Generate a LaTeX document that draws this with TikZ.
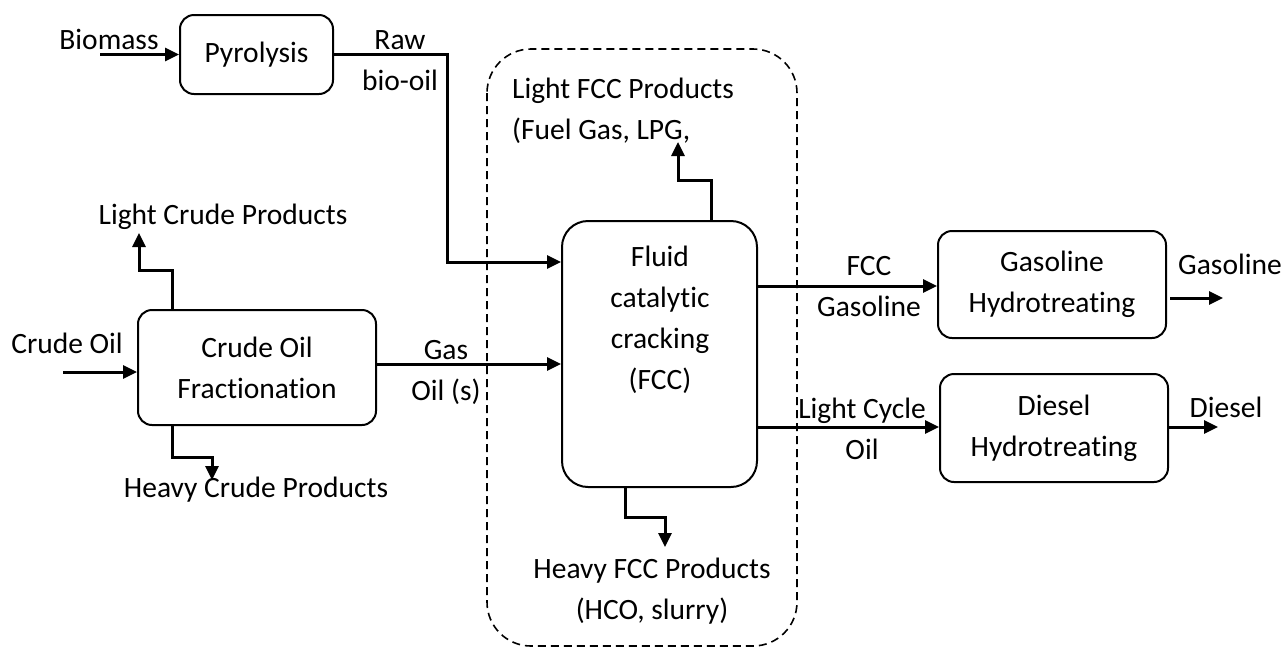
\documentclass[tikz,border=0pt]{standalone}
\usepackage{fontspec}
\setmainfont{Carlito}[Ligatures={NoCommon}]
\usetikzlibrary{arrows.meta}
\tikzset{
  proc/.style={draw, line width=2pt, rounded corners=14pt, align=center, inner sep=0pt},
  flow/.style={line width=3pt, -{Triangle[length=14pt,width=13pt]}},
  lbl/.style={align=center, inner sep=0pt},
  grp/.style={line width=1.6pt, dash pattern=on 8pt off 5pt, rounded corners=44pt}
}
\begin{document}
\begin{tikzpicture}[x=1pt,y=-1pt,font=\fontsize{29.5}{41}\selectfont]
      \useasboundingbox (0,0) rectangle (1285,649);

      % process units
      \node[proc, minimum width=153pt, minimum height=79pt] (pyro) at (256.5,54.5) {Pyrolysis};
      \node[proc, minimum width=238pt, minimum height=115pt] (cof) at (257,367.5) {Crude Oil\\Fractionation};
      \node[proc, rounded corners=26pt, minimum width=195pt, minimum height=266pt] (fcc) at (659.5,354) {};
      \node[lbl] (fcctxt) at (660,320) {Fluid\\catalytic\\cracking\\(FCC)};
      \node[proc, minimum width=228pt, minimum height=107pt] (ght) at (1052,284.5) {Gasoline\\Hydrotreating};
      \node[proc, minimum width=228pt, minimum height=108pt] (dht) at (1054,428) {Diesel\\Hydrotreating};

      % FCC unit boundary
      \draw[grp] (487,49) rectangle (797,646);

      % stream labels
      \node[lbl] (biomass) at (109,39) {Biomass};
      \node[lbl] (crude) at (67,343) {Crude Oil};
      \node[lbl] (rawoil) at (400,61) {Raw\\bio-oil};
      \node[lbl] (gasoil) at (446,372) {Gas\\Oil (s)};
      \node[lbl] (lcptxt) at (223,217) {Light Crude Products};
      \node[lbl] (hcptxt) at (256,490) {Heavy Crude Products};
      \node[lbl, align=left, anchor=west] (lfcctxt) at (512,111) {Light FCC Products\\(Fuel Gas, LPG,};
      \node[lbl] (hfcctxt) at (652,591) {Heavy FCC Products\\(HCO, slurry)};
      \node[lbl] (fccgas) at (869,287) {FCC\\Gasoline};
      \node[lbl] (lco) at (862,429) {Light Cycle\\Oil};
      \node[lbl] (gasoline) at (1230,264) {Gasoline};
      \node[lbl] (diesel) at (1226,407) {Diesel};

      % biomass route
      \coordinate (bioin) at (100,54.5);
      \draw[flow] (bioin) -- (pyro.west);
      \coordinate (rawbend) at (447,262);
      \draw[flow] (pyro.east) -| (rawbend) -- (rawbend -| fcc.west);

      % crude route
      \coordinate (crudein) at (63,372);
      \draw[flow] (crudein) -- (crudein -| cof.west);
      \draw[flow] (cof.east |- 0,364) -- (fcc.west |- 0,364);
      \coordinate (lcptip) at (139,233);
      \draw[flow] (cof.north -| 172,0) -- (172,270) -| (lcptip);
      \coordinate (hcptip) at (212,480);
      \draw[flow] (cof.south -| 172,0) -- (172,457) -| (hcptip);

      % FCC products
      \coordinate (lfcctip) at (678,142);
      \draw[flow] (fcc.north -| 711,0) -- (711,180) -| (lfcctip);
      \coordinate (hfcctip) at (665,547);
      \draw[flow] (fcc.south -| 625,0) -- (625,517) -| (hfcctip);
      \draw[flow] (fcc.east |- 0,286) -- (ght.west |- 0,286);
      \draw[flow] (fcc.east |- 0,427) -- (dht.west |- 0,427);

      % hydrotreated products
      \coordinate (gasout) at (1223,298);
      \draw[flow, shorten <=3pt] (gasout -| ght.east) -- (gasout);
      \coordinate (dieselout) at (1218,427);
      \draw[flow] (dieselout -| dht.east) -- (dieselout);

\end{tikzpicture}
\end{document}
